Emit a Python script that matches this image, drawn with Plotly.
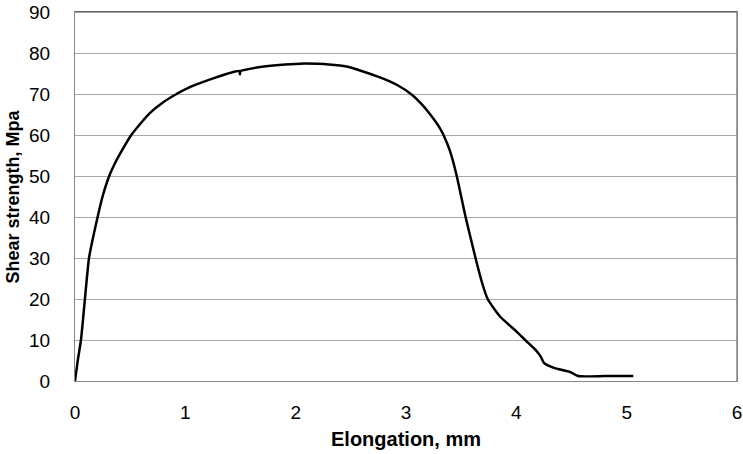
import plotly.graph_objects as go

elongation_mm = [0, 0.025, 0.054, 0.09, 0.127, 0.205, 0.25, 0.31, 0.36, 0.41, 0.51, 0.6, 0.68,
                 0.8, 0.92, 1.05, 1.22, 1.35, 1.49, 1.495, 1.50, 1.68, 1.85, 2.04, 2.2, 2.3, 2.46,
                 2.61, 2.77, 2.92, 3.05, 3.15, 3.22, 3.3, 3.34, 3.4, 3.46, 3.54, 3.63, 3.69,
                 3.74, 3.85, 4.0, 4.08, 4.17, 4.22, 4.25, 4.34, 4.49, 4.56, 4.8, 5.06]
shear_mpa = [0, 5, 10, 20, 30, 40, 45, 50, 53, 55.5, 60, 63, 65.4,
             68, 70, 71.8, 73.5, 74.7, 75.6, 74.8, 75.6, 76.6, 77.1, 77.4, 77.35, 77.2, 76.7,
             75.5, 74.0, 72.2, 69.9, 67.3, 65, 62, 60, 56, 50, 40, 30, 23.9,
             20, 15.8, 12.1, 10, 7.7, 6.0, 4.4, 3.2, 2.15, 1.2, 1.2, 1.2]

x_ticks = [0, 1, 2, 3, 4, 5, 6]
y_ticks = [0, 10, 20, 30, 40, 50, 60, 70, 80, 90]

fig = go.Figure()
fig.add_trace(go.Scatter(x=elongation_mm, y=shear_mpa, mode="lines",
                         line=dict(color="black", width=2.5, shape="spline", smoothing=0.5),
                         showlegend=False, hoverinfo="skip"))

font_family = "Liberation Sans, Arial, sans-serif"
fig.update_layout(
    width=743, height=454,
    margin=dict(l=75, r=6, t=12, b=73),
    paper_bgcolor="white", plot_bgcolor="white",
    font=dict(family=font_family, size=19, color="black"),
    xaxis=dict(range=[0, 6], tickvals=x_ticks, ticktext=[str(v) for v in x_ticks],
               showgrid=False, zeroline=False, showline=True, linecolor="#868686",
               linewidth=1, mirror=True, ticks="", ticklabelstandoff=14,
               tickfont=dict(size=19), automargin=False),
    yaxis=dict(range=[0, 90], tickvals=y_ticks, ticktext=[str(v) for v in y_ticks],
               showgrid=True, gridcolor="#a8a8a8", gridwidth=1, zeroline=False,
               showline=True, linecolor="#868686", linewidth=1, mirror=True,
               ticks="", ticklabelstandoff=20, tickfont=dict(size=19), automargin=False),
    annotations=[
        dict(text="<b>Elongation, mm</b>", xref="paper", yref="paper", x=0.5, y=0,
             yshift=-58, showarrow=False, xanchor="center", yanchor="middle",
             font=dict(size=20, family=font_family)),
        dict(text="<b>Shear strength, Mpa</b>", xref="paper", yref="paper", x=0, y=0.5,
             xshift=-63, showarrow=False, textangle=-90, xanchor="center", yanchor="middle",
             font=dict(size=18, family=font_family)),
    ],
    shapes=[
        dict(type="line", xref="paper", yref="paper", x0=0, x1=1, y0=1, y1=1,
             line=dict(color="#404040", width=1)),
        dict(type="line", xref="paper", yref="paper", x0=1, x1=1, y0=0, y1=1,
             line=dict(color="#868686", width=1.5)),
    ],
)

fig.write_html("out.html", config={"displayModeBar": False},
               post_script="document.body.style.margin='0';document.body.style.overflow='hidden';")
